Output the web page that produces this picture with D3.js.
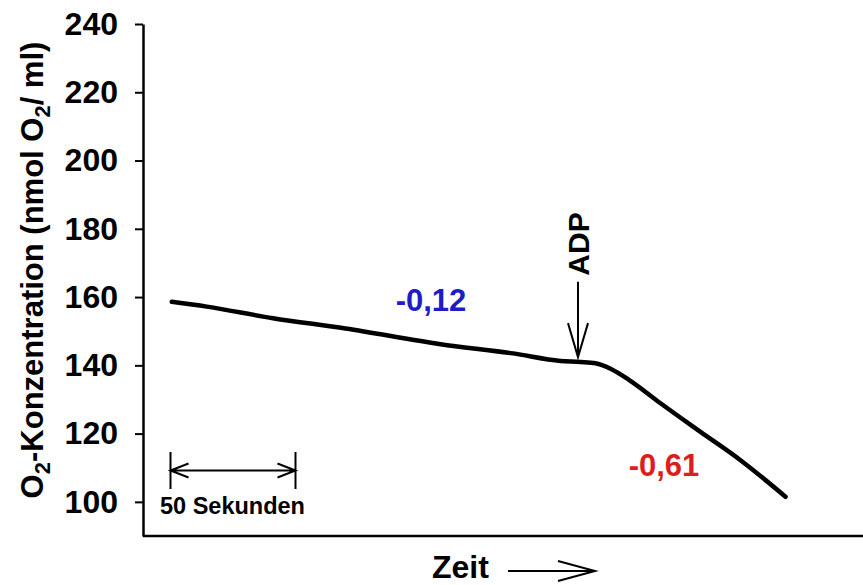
<!DOCTYPE html>
<html>
<head>
<meta charset="utf-8">
<script src="https://cdn.jsdelivr.net/npm/d3@7"></script>
<style>
  html, body { margin: 0; padding: 0; background: #fff; }
  svg { display: block; }
  text { font-family: "Liberation Sans", Arial, sans-serif; font-weight: bold; }
</style>
</head>
<body>
<svg id="chart" width="863" height="585"></svg>
<script>
// Oxygen trace of the chamber (time in s, O2 in nmol/ml)
const traceTime  = [11.5, 25.5, 52, 81, 119, 148, 167, 175, 181, 187, 194.5, 207, 223, 239, 257];
const traceO2    = [158.6, 157.2, 153.8, 150.8, 146.2, 143.5, 141.3, 141.0, 140.6, 139.0, 135.7, 128.9, 120.5, 112.2, 101.5];
const yTicks     = [100, 120, 140, 160, 180, 200, 220, 240];
const rateLabels = ["-0,12", "-0,61"];
const adpTime    = 174;
const scaleBar   = [11, 61];   // 50 s

const svg = d3.select("#chart");
const W = 863, H = 585;
const plotLeft = 143, plotBottom = 536, plotTop = 24;

const x = d3.scaleLinear().domain([0, 288]).range([plotLeft, W]);
const y = d3.scaleLinear().domain([90, 240]).range([plotBottom, plotTop]);

// y axis
const yAxis = svg.append("g")
  .attr("transform", `translate(${plotLeft},0)`)
  .call(d3.axisLeft(y).tickValues(yTicks).tickSizeInner(8).tickSizeOuter(0).tickPadding(17));
yAxis.select(".domain").attr("stroke", "#000").attr("stroke-width", 2.5);
yAxis.selectAll(".tick line").attr("stroke", "#000").attr("stroke-width", 2);
yAxis.selectAll(".tick text")
  .attr("fill", "#000").style("font-size", "32px").style("font-weight", "bold")
  .style("font-family", "'Liberation Sans', Arial, sans-serif");

// x axis (time, no ticks)
svg.append("line")
  .attr("x1", plotLeft).attr("x2", W)
  .attr("y1", plotBottom).attr("y2", plotBottom)
  .attr("stroke", "#000").attr("stroke-width", 2.5);

// y axis title with subscripts
const yTitle = svg.append("text")
  .attr("transform", `translate(43,270) rotate(-90)`)
  .attr("text-anchor", "middle")
  .style("font-size", "31px");
yTitle.append("tspan").text("O");
yTitle.append("tspan").text("2").style("font-size", "22px").attr("dy", 7);
yTitle.append("tspan").text("-Konzentration (nmol O").attr("dy", -7);
yTitle.append("tspan").text("2").style("font-size", "22px").attr("dy", 7);
yTitle.append("tspan").text("/ ml)").attr("dy", -7);

// x axis title with arrow
svg.append("text")
  .attr("x", 432).attr("y", 578)
  .style("font-size", "32px")
  .text("Zeit");
const zy = 571;
svg.append("path")
  .attr("d", `M508,${zy}H595M558,${zy - 10}L595,${zy}L558,${zy + 10}`)
  .attr("fill", "none").attr("stroke", "#000").attr("stroke-width", 2);

// trace
const line = d3.line()
  .x((d, i) => x(traceTime[i]))
  .y(d => y(d))
  .curve(d3.curveMonotoneX);
svg.append("path")
  .datum(traceO2)
  .attr("d", line)
  .attr("fill", "none")
  .attr("stroke", "#000")
  .attr("stroke-width", 4.5)
  .attr("stroke-linecap", "round")
  .attr("stroke-linejoin", "round");

// ADP addition marker
const ax = x(adpTime);
const tipY = y(142.4), arrowTopY = y(164.5);
svg.append("path")
  .attr("d", `M${ax},${arrowTopY}V${tipY}M${ax - 10},${tipY - 34}L${ax},${tipY}L${ax + 10},${tipY - 34}`)
  .attr("fill", "none").attr("stroke", "#000").attr("stroke-width", 2);
svg.append("text")
  .attr("transform", `translate(${ax},244) rotate(-90)`)
  .attr("text-anchor", "middle")
  .attr("dy", "0.35em")
  .style("font-size", "30px")
  .text("ADP");

// respiration rates
svg.append("text")
  .attr("x", 431).attr("y", 311)
  .attr("text-anchor", "middle")
  .attr("fill", "#1c1cc8")
  .style("font-size", "31px")
  .text(rateLabels[0]);
svg.append("text")
  .attr("x", 664).attr("y", 476)
  .attr("text-anchor", "middle")
  .attr("fill", "#dc1e1e")
  .style("font-size", "31px")
  .text(rateLabels[1]);

// 50 s scale bar
const bx0 = x(scaleBar[0]), bx1 = x(scaleBar[1]), by = 470.5;
svg.append("path")
  .attr("d", `M${bx0},452V489M${bx1},452V489M${bx0},${by}H${bx1}` +
             `M${bx0 + 18},${by - 7}L${bx0},${by}L${bx0 + 18},${by + 7}` +
             `M${bx1 - 18},${by - 7}L${bx1},${by}L${bx1 - 18},${by + 7}`)
  .attr("fill", "none").attr("stroke", "#000").attr("stroke-width", 2);
svg.append("text")
  .attr("x", 160).attr("y", 514)
  .style("font-size", "23.5px")
  .text("50 Sekunden");
</script>
</body>
</html>
